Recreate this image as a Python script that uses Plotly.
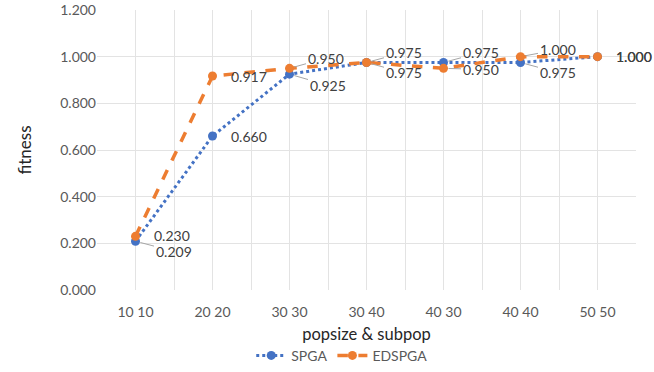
import plotly.graph_objects as go

categories = ["10 10", "20 20", "30 30", "30 40", "40 30", "40 40", "50 50"]
spga = [0.209, 0.660, 0.925, 0.975, 0.975, 0.975, 1.000]
edspga = [0.230, 0.917, 0.950, 0.975, 0.950, 1.000, 1.000]
y_ticks = [0.0, 0.2, 0.4, 0.6, 0.8, 1.0, 1.2]

xs = list(range(len(categories)))
FONT = "Lato"
BLUE = "#4472C4"
ORANGE = "#ED7D31"

fig = go.Figure()
fig.add_trace(go.Scatter(x=xs, y=spga, name="SPGA", mode="lines+markers",
                         line=dict(color=BLUE, width=3, dash="dot"),
                         marker=dict(color=BLUE, size=9), cliponaxis=False))
fig.add_trace(go.Scatter(x=xs, y=edspga, name="EDSPGA", mode="lines+markers",
                         line=dict(color=ORANGE, width=3.5, dash="dash"),
                         marker=dict(color=ORANGE, size=9), cliponaxis=False))

# label placement (pixel offsets of label center, leader flag)
spga_pos = [(38, 10, True), (36, 0, False), (38, 11, True), (37, -10, True),
            (37, -10, True), (37, 10, True), (36, 0, False)]
ed_pos = [(36, -1, False), (36, 0, False), (36, -10, True), (37, 10, True),
          (37, 1, True), (37, -7, True), (36, 0, False)]

for series, pos in ((spga, spga_pos), (edspga, ed_pos)):
    for i, v in enumerate(series):
        ax, ay, lead = pos[i]
        if lead:
            fig.add_annotation(x=xs[i], y=v, text=f"{v:.3f}", showarrow=True,
                               ax=ax, ay=ay, arrowhead=0, arrowwidth=1,
                               arrowcolor="#A6A6A6", standoff=5,
                               font=dict(family=FONT, size=14, color="#404040"))
        else:
            fig.add_annotation(x=xs[i], y=v, text=f"{v:.3f}", showarrow=False,
                               xshift=ax, yshift=-ay,
                               font=dict(family=FONT, size=14, color="#404040"))

fig.update_layout(
    width=654, height=372,
    margin=dict(l=97, r=18, t=10, b=82, autoexpand=False),
    plot_bgcolor="white", paper_bgcolor="white",
    font=dict(family=FONT, color="#595959", size=14),
    showlegend=True,
    legend=dict(orientation="h", x=0.455, xanchor="center", y=-0.235, yanchor="middle",
                font=dict(family=FONT, size=14, color="#595959")),
    xaxis=dict(range=[-0.5, len(categories) - 0.5], tickvals=xs, ticktext=categories,
               automargin=False, ticklabelstandoff=12,
               showgrid=True, gridcolor="#E3E3E3", gridwidth=1, zeroline=False,
               showline=False, ticks="",
               minor=dict(tickvals=[i - 0.5 for i in range(len(categories) + 1)],
                          showgrid=True, gridcolor="#E3E3E3", gridwidth=1),
               tickfont=dict(family=FONT, size=14, color="#595959"),
               title=dict(text="popsize & subpop", standoff=9,
                          font=dict(family=FONT, size=16.5, color="#262626"))),
    yaxis=dict(range=[0, 1.2], tickvals=y_ticks, ticktext=[f"{t:.3f}" for t in y_ticks],
               automargin=False,
               showgrid=True, gridcolor="#E3E3E3", gridwidth=1, zeroline=False,
               showline=False, ticks="",
               tickfont=dict(family=FONT, size=14, color="#595959"),
               title=dict(text="fitness", standoff=24,
                          font=dict(family=FONT, size=17, color="#262626"))),
)
fig.update_yaxes(ticksuffix="    ")

fig.write_html("out.html", config={"displayModeBar": False},
               post_script="document.body.style.margin='0';")
